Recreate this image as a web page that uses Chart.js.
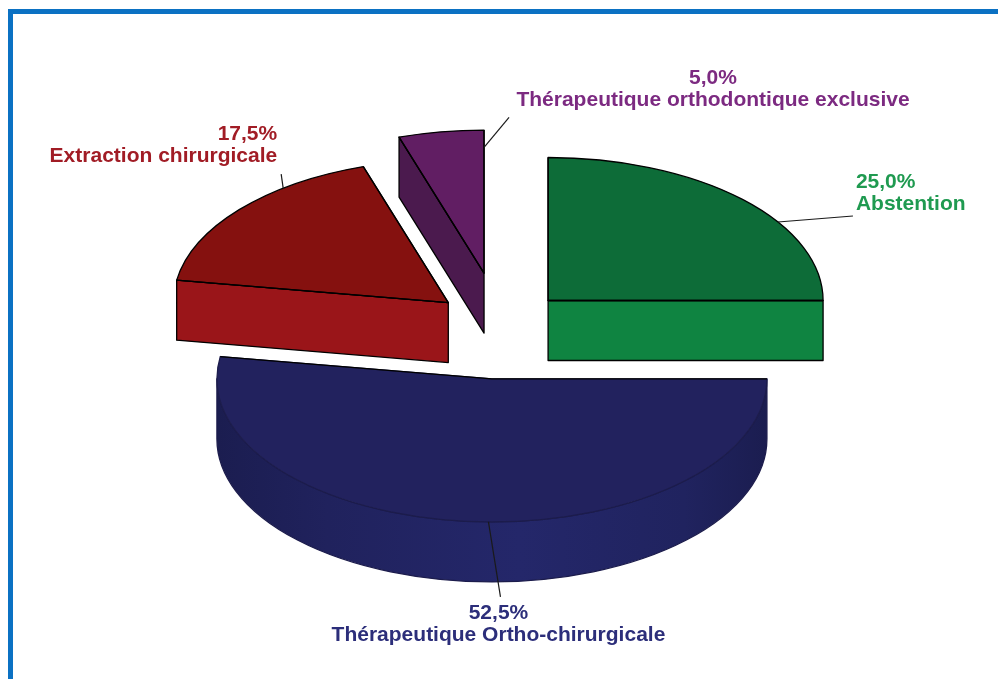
<!DOCTYPE html>
<html lang="fr">
<head>
<meta charset="utf-8">
<title>Répartition des décisions thérapeutiques</title>
<script src="https://cdn.jsdelivr.net/npm/chart.js@4.4.1/dist/chart.umd.min.js"></script>
<style>
  html, body { margin: 0; padding: 0; background: #ffffff; overflow: hidden; }
  #wrap { position: relative; width: 998px; height: 679px; }
  #frame {
    position: absolute; left: 8px; top: 9px; width: 2000px; height: 2000px;
    border-left: 5px solid #0b71c3; border-top: 5px solid #0b71c3;
  }
  #pie { position: absolute; left: 0; top: 0; }
</style>
</head>
<body>
<div id="wrap">
  <div id="frame"></div>
  <canvas id="pie" width="998" height="679"></canvas>
</div>
<script>
// categories and their shares (%), clockwise from 12 o'clock
const categories = [
  'Abstention',
  'Thérapeutique Ortho-chirurgicale',
  'Extraction chirurgicale',
  'Thérapeutique orthodontique exclusive'
];
const shares = [25.0, 52.5, 17.5, 5.0];

// look of each slice
const topColors = ['#0d6c38', '#22225e', '#85110f', '#611e63'];
const sideColors = ['#0f8441', '#24276a', '#9a1519', '#4b1a4e'];
const edgeColors = ['#000000', '#1c1c4c', '#000000', '#000000'];
const labelColors = ['#1f9a50', '#2c2e7a', '#a11c25', '#7c2a81'];
const explode = [68, 103, 68, 102];

// label placement: where the leader starts on the slice (angle fraction, radius fraction),
// where it ends and where the two text lines sit, relative to that start
const labelLayout = [
  { at: 0.63, rad: 1.0, lead: [75, -6], text: [78, -40], align: 'left' },
  { at: 0.48, rad: 1.0, lead: [12, 75], text: [10, 91], align: 'center' },
  { at: 0.70, rad: 1.0, lead: [-2, -14], text: [-6, -54], align: 'right' },
  { at: 1.00, rad: 0.88, lead: [25, -30], text: [229, -69], align: 'center' }
];

function fmtPct(v, total) {
  return (v / total * 100).toFixed(1).replace('.', ',') + '%';
}

// geometry of every slice once projected on the tilted plane
function sliceGeometry(chart, k) {
  const meta = chart.getDatasetMeta(0);
  return meta.data.map((arc, i) => {
    const p = arc.getProps(['x', 'y', 'startAngle', 'endAngle', 'outerRadius'], true);
    const o = arc.options.offset || 0;
    const mid = (p.startAngle + p.endAngle) / 2;
    return {
      i: i,
      a1: p.startAngle,
      a2: p.endAngle,
      r: p.outerRadius,
      ry: p.outerRadius * k,
      cx: p.x + o * Math.cos(mid),
      cy: p.y + o * Math.sin(mid) * k,
      opts: arc.options
    };
  });
}

// part of [a1, a2] where the rim faces the viewer (sin > 0)
function frontRange(a1, a2) {
  for (let n = -1; n <= 1; n++) {
    const lo = Math.max(a1, n * 2 * Math.PI);
    const hi = Math.min(a2, n * 2 * Math.PI + Math.PI);
    if (hi > lo) return [lo, hi];
  }
  return null;
}

const pie3d = {
  id: 'pie3d',
  beforeDatasetsDraw(chart, args, opts) {
    const ctx = chart.ctx;
    const k = opts.tilt, depth = opts.depth;
    const slices = sliceGeometry(chart, k);

    ctx.save();
    ctx.lineJoin = 'round';
    ctx.lineWidth = opts.lineWidth;

    // side walls first
    slices.forEach(s => {
      const side = opts.sideColors[s.i];
      const rim = frontRange(s.a1, s.a2);
      if (rim) {
        const g = ctx.createLinearGradient(s.cx - s.r, 0, s.cx + s.r, 0);
        g.addColorStop(0, opts.shade(side, -0.25));
        g.addColorStop(0.2, opts.shade(side, -0.12));
        g.addColorStop(0.55, side);
        g.addColorStop(0.85, opts.shade(side, -0.1));
        g.addColorStop(1, opts.shade(side, -0.25));
        ctx.beginPath();
        ctx.ellipse(s.cx, s.cy, s.r, s.ry, 0, rim[0], rim[1], false);
        ctx.lineTo(s.cx + s.r * Math.cos(rim[1]), s.cy + s.ry * Math.sin(rim[1]) + depth);
        ctx.ellipse(s.cx, s.cy + depth, s.r, s.ry, 0, rim[1], rim[0], true);
        ctx.closePath();
        ctx.fillStyle = g;
        ctx.fill();
        ctx.strokeStyle = s.opts.borderColor;
        ctx.stroke();
      }
      const cuts = [];
      if (Math.cos(s.a1) < -1e-6) cuts.push(s.a1);
      if (Math.cos(s.a2) > 1e-6) cuts.push(s.a2);
      cuts.forEach(a => {
        const ex = s.cx + s.r * Math.cos(a), ey = s.cy + s.ry * Math.sin(a);
        ctx.beginPath();
        ctx.moveTo(s.cx, s.cy);
        ctx.lineTo(ex, ey);
        ctx.lineTo(ex, ey + depth);
        ctx.lineTo(s.cx, s.cy + depth);
        ctx.closePath();
        ctx.fillStyle = side;
        ctx.fill();
        ctx.strokeStyle = s.opts.borderColor;
        ctx.stroke();
      });
    });

    // then the top faces
    slices.forEach(s => {
      ctx.beginPath();
      ctx.moveTo(s.cx, s.cy);
      ctx.ellipse(s.cx, s.cy, s.r, s.ry, 0, s.a1, s.a2, false);
      ctx.closePath();
      ctx.fillStyle = s.opts.backgroundColor;
      ctx.fill();
      ctx.strokeStyle = s.opts.borderColor;
      ctx.stroke();
      // straight edges are always dark
      ctx.beginPath();
      ctx.moveTo(s.cx + s.r * Math.cos(s.a1), s.cy + s.ry * Math.sin(s.a1));
      ctx.lineTo(s.cx, s.cy);
      ctx.lineTo(s.cx + s.r * Math.cos(s.a2), s.cy + s.ry * Math.sin(s.a2));
      ctx.strokeStyle = '#000000';
      ctx.stroke();
    });
    ctx.restore();
    return false;
  },
  afterDraw(chart, args, opts) {
    const ctx = chart.ctx;
    const slices = sliceGeometry(chart, opts.tilt);
    const values = chart.data.datasets[0].data;
    const total = values.reduce((a, b) => a + b, 0);

    ctx.save();
    slices.forEach(s => {
      const lay = opts.layout[s.i];
      const a = s.a1 + lay.at * (s.a2 - s.a1);
      const ax = s.cx + lay.rad * s.r * Math.cos(a);
      const ay = s.cy + lay.rad * s.ry * Math.sin(a);

      ctx.beginPath();
      ctx.moveTo(ax, ay);
      ctx.lineTo(ax + lay.lead[0], ay + lay.lead[1]);
      ctx.lineWidth = 1.2;
      ctx.strokeStyle = '#1a1a1a';
      ctx.stroke();

      const tx = ax + lay.text[0], ty = ay + lay.text[1];
      ctx.font = 'bold 21px "Liberation Sans", Arial, sans-serif';
      ctx.textAlign = lay.align;
      ctx.textBaseline = 'middle';
      ctx.fillStyle = opts.colors[s.i];
      ctx.fillText(fmtPct(values[s.i], total), tx, ty);
      ctx.fillText(chart.data.labels[s.i], tx, ty + opts.lineGap);
    });
    ctx.restore();
  }
};

// darken a hex colour by a fraction
function shade(hex, f) {
  const n = parseInt(hex.slice(1), 16);
  const ch = [(n >> 16) & 255, (n >> 8) & 255, n & 255].map(c => Math.round(c * (1 + f)));
  return 'rgb(' + ch.join(',') + ')';
}

new Chart(document.getElementById('pie'), {
  type: 'pie',
  data: {
    labels: categories,
    datasets: [{
      data: shares,
      backgroundColor: topColors,
      borderColor: edgeColors,
      borderWidth: 1.3,
      offset: explode
    }]
  },
  options: {
    responsive: false,
    animation: false,
    events: [],
    radius: 275,
    layout: { padding: { left: 2, right: 0, top: 0, bottom: 28 } },
    plugins: {
      legend: { display: false },
      tooltip: { enabled: false },
      pie3d: {
        tilt: 0.52,
        depth: 60,
        lineWidth: 1.3,
        sideColors: sideColors,
        shade: shade,
        colors: labelColors,
        layout: labelLayout,
        lineGap: 22
      }
    }
  },
  plugins: [pie3d]
});
</script>
</body>
</html>
